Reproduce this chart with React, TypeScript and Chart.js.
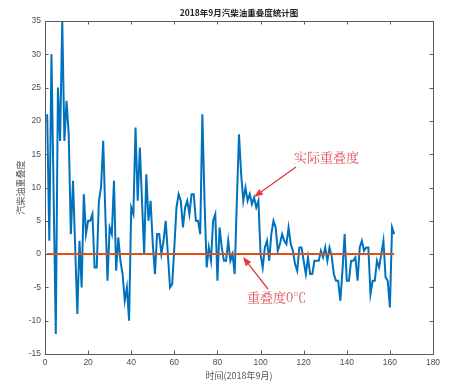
import React, { useEffect, useRef } from "react";
import { Chart, registerables } from "chart.js";

Chart.register(...registerables);

// Day index (x) and overlap values (y)
const overlapValues: number[] = [
  21, 2, 30, 9, -12, 25, 17, 35, 17, 23,
  18, 3, 11, 1, -9, 2, -5, 9, 3, 5,
  5, 6, -2, -2, 8, 10, 17, 6, -4, 4,
  3, 11, -2.5, 2.5, -1, -3, -7, -5, -10, 7,
  6, 19, 8, 16, 8, 0, 12, 5, 8, 1.5,
  -3, 3, 3, 0, 2, 5, 0, -5, -4.5, 1,
  7, 9, 8, 4, 7, 8, 6, 9, 9, 5,
  5, 3, 21, 8, -2, 1, -1, 5, 6, -4,
  4, 1, -1, -1, 2, -1, 0, -3, 8, 18,
  12, 8, 10, 8, 9, 7.5, 8.5, 7, 8, 0,
  -2, 1, 2, -1, 3, 5, 4, 0.5, 1.5, 3,
  2, 1.5, 4, 1.5, 0.5, -1.5, -2.5, 1, 1, -1,
  -3, -0.5, -3, -3, -1, -1, -1, 0.5, -0.5, 1,
  -1, 1, -0.3, -3, -4, -4, -7, -2.5, 3, -4,
  -4, -1, -1, -0.5, -4, 1, 2, 0.5, 1, 1,
  -6, -4, -4, -1, -2, 0, 2, -3.5, -4, -8,
  4, 3,
];
const dayIndex: number[] = overlapValues.map((_, i) => i + 1);
const zeroLine: number[] = overlapValues.map(() => 0);

const xTicks: number[] = [0, 20, 40, 60, 80, 100, 120, 140, 160, 180];
const yTicks: number[] = [-15, -10, -5, 0, 5, 10, 15, 20, 25, 30, 35];

const titleText = "2018年9月汽柴油重叠度统计图";
const xLabel = "时间(2018年9月)";
const yLabel = "汽柴油重叠度";
const actualLabel = "实际重叠度";
const zeroLabel = "重叠度0℃";

const W = 461;
const H = 389;

const decorPlugin = {
  id: "decor",
  afterDraw(chart: any) {
    const { ctx, chartArea } = chart;
    const { left, right, top, bottom } = chartArea;
    const xs = chart.scales.x;
    const ys = chart.scales.y;
    ctx.save();
    // box
    ctx.strokeStyle = "#5a5a5a";
    ctx.lineWidth = 1;
    ctx.strokeRect(Math.round(left) + 0.5, Math.round(top) + 0.5, Math.round(right - left), Math.round(bottom - top));
    // inward ticks
    const tl = 3.5;
    ctx.beginPath();
    for (const v of xTicks) {
      const px = Math.round(xs.getPixelForValue(v)) + 0.5;
      ctx.moveTo(px, bottom);
      ctx.lineTo(px, bottom - tl);
      ctx.moveTo(px, top);
      ctx.lineTo(px, top + tl);
    }
    for (const v of yTicks) {
      const py = Math.round(ys.getPixelForValue(v)) + 0.5;
      ctx.moveTo(left, py);
      ctx.lineTo(left + tl, py);
      ctx.moveTo(right, py);
      ctx.lineTo(right - tl, py);
    }
    ctx.stroke();

    const cx = (left + right) / 2;
    // title
    ctx.fillStyle = "#222";
    ctx.textAlign = "center";
    ctx.textBaseline = "middle";
    ctx.font = "bold 8.5px 'Noto Sans CJK SC', 'Liberation Sans', sans-serif";
    ctx.fillText(titleText, cx, 13);
    // x label
    ctx.fillStyle = "#555";
    ctx.font = "9px 'Noto Sans CJK SC', 'Liberation Sans', sans-serif";
    ctx.fillText(xLabel, cx, 376);
    // y label
    ctx.save();
    ctx.translate(21, (top + bottom) / 2);
    ctx.rotate(-Math.PI / 2);
    ctx.fillText(yLabel, 0, 0);
    ctx.restore();

    // annotations
    const arrow = (x1: number, y1: number, x2: number, y2: number) => {
      ctx.strokeStyle = "#e23a40";
      ctx.fillStyle = "#e23a40";
      ctx.lineWidth = 1.3;
      const ang = Math.atan2(y2 - y1, x2 - x1);
      const hl = 9;
      const hw = 3.5;
      const bx = x2 - hl * Math.cos(ang);
      const by = y2 - hl * Math.sin(ang);
      ctx.beginPath();
      ctx.moveTo(x1, y1);
      ctx.lineTo(bx, by);
      ctx.stroke();
      ctx.beginPath();
      ctx.moveTo(x2, y2);
      ctx.lineTo(bx + hw * Math.sin(ang), by - hw * Math.cos(ang));
      ctx.lineTo(bx - hw * Math.sin(ang), by + hw * Math.cos(ang));
      ctx.closePath();
      ctx.fill();
    };
    arrow(296, 167, 254, 197);
    arrow(268, 289, 243, 257);
    ctx.fillStyle = "#e0505c";
    ctx.font = "13px 'Noto Serif CJK SC', 'Noto Sans CJK SC', serif";
    ctx.textAlign = "left";
    ctx.fillText(actualLabel, 294, 157);
    ctx.fillText(zeroLabel, 247, 297);
    ctx.restore();
  },
};

export default function App() {
  const ref = useRef<HTMLCanvasElement | null>(null);
  useEffect(() => {
    if (!ref.current) return;
    const chart = new Chart(ref.current, {
      type: "line",
      data: {
        datasets: [
          {
            label: "0",
            data: dayIndex.map((x, i) => ({ x, y: zeroLine[i] })),
            borderColor: "#D95319",
            borderWidth: 2,
            pointRadius: 0,
            tension: 0,
          },
          {
            label: "overlap",
            data: dayIndex.map((x, i) => ({ x, y: overlapValues[i] })),
            borderColor: "#0072BD",
            borderWidth: 2,
            pointRadius: 0,
            tension: 0,
          },
        ],
      },
      options: {
        animation: false,
        responsive: false,
        layout: { padding: { top: 21, right: 28, left: 0, bottom: 0 } },
        plugins: { legend: { display: false }, tooltip: { enabled: false }, title: { display: false } },
        scales: {
          x: {
            type: "linear",
            min: 0,
            max: 180,
            grid: { display: false, drawTicks: false, tickLength: 0 },
            border: { display: false },
            afterBuildTicks: (s: any) => {
              s.ticks = xTicks.map((v) => ({ value: v }));
            },
            afterFit: (s: any) => {
              s.height = 35;
            },
            ticks: {
              padding: 4,
              color: "#4d4d4d",
              font: { family: "'Liberation Sans', Arial, sans-serif", size: 8.5 },
              maxRotation: 0,
            },
          },
          y: {
            type: "linear",
            min: -15,
            max: 35,
            grid: { display: false, drawTicks: false, tickLength: 0 },
            border: { display: false },
            afterBuildTicks: (s: any) => {
              s.ticks = yTicks.map((v) => ({ value: v }));
            },
            afterFit: (s: any) => {
              s.width = 45;
            },
            ticks: {
              padding: 4,
              color: "#4d4d4d",
              font: { family: "'Liberation Sans', Arial, sans-serif", size: 8.5 },
            },
          },
        },
      },
      plugins: [decorPlugin],
    } as any);
    return () => chart.destroy();
  }, []);
  return (
    <div style={{ position: "absolute", left: 0, top: 0, width: W, height: H, background: "#fff" }}>
      <canvas ref={ref} width={W} height={H} style={{ display: "block" }} />
    </div>
  );
}
